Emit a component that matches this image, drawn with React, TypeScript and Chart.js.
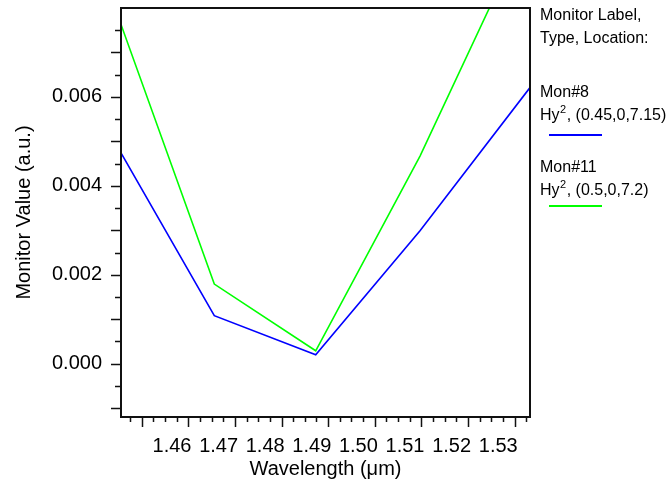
import React, { useEffect, useRef } from "react";
import { Chart, registerables } from "chart.js";

Chart.register(...registerables);

// ---- data ----
const wavelengths = [1.44906, 1.46908, 1.49084, 1.51322, 1.53682];
const mon8Values = [0.00474, 0.00108, 0.0002, 0.00299, 0.00621];
const mon11Values = [0.00763, 0.00179, 0.00029, 0.00467, 0.00995];
const xTickLabels = [1.46, 1.47, 1.48, 1.49, 1.5, 1.51, 1.52, 1.53];
const yTickLabels = [0, 0.002, 0.004, 0.006];
const legendHeader = ["Monitor Label,", "Type, Location:"];
const seriesNames = ["Mon#8", "Mon#11"];
const seriesTypes = ["Hy", "Hy"];
const seriesLocations = [", (0.45,0,7.15)", ", (0.5,0,7.2)"];
const seriesColors = ["#0000ff", "#00ff00"];

const FONT = "Arial, 'Liberation Sans', sans-serif";

const decorPlugin = {
  id: "decor",
  afterDraw(chart: any) {
    const ctx = chart.ctx;
    const area = chart.chartArea;
    const xs = chart.scales.x;
    const ys = chart.scales.y;
    ctx.save();
    // minor / major tick marks
    ctx.strokeStyle = "#111";
    ctx.lineWidth = 1.5;
    ctx.beginPath();
    for (let k = -2; k <= 15; k++) {
      const v = k * 0.0005;
      const py = Math.round(ys.getPixelForValue(v)) + 0.5;
      if (py < area.top + 2 || py > area.bottom - 2) continue;
      const len = k % 2 === 0 ? 10 : 6;
      ctx.moveTo(area.left - len, py);
      ctx.lineTo(area.left, py);
    }
    for (let k = 0; k <= 34; k++) {
      const v = 1.451 + k * 0.0025;
      const px = Math.round(xs.getPixelForValue(v)) + 0.5;
      if (px < area.left + 2 || px > area.right - 2) continue;
      const len = (k - 1) % 4 === 0 ? 10 : 5;
      ctx.moveTo(px, area.bottom);
      ctx.lineTo(px, area.bottom + len);
    }
    ctx.stroke();
    // frame
    ctx.lineWidth = 2;
    ctx.strokeStyle = "#111";
    ctx.strokeRect(area.left, area.top, area.right - area.left, area.bottom - area.top);

    // legend
    const lx = area.right + 10;
    ctx.fillStyle = "#000";
    ctx.textBaseline = "middle";
    ctx.textAlign = "left";
    ctx.font = "16px " + FONT;
    ctx.fillText(legendHeader[0], lx, 16);
    ctx.fillText(legendHeader[1], lx, 39);
    const nameY = [93, 168];
    const typeY = [116, 191];
    const lineY = [135, 206];
    seriesNames.forEach((name, i) => {
      ctx.font = "16px " + FONT;
      ctx.fillStyle = "#000";
      ctx.fillText(name, lx, nameY[i]);
      const y1 = typeY[i];
      ctx.fillText(seriesTypes[i], lx, y1);
      const w1 = ctx.measureText(seriesTypes[i]).width;
      ctx.font = "11px " + FONT;
      ctx.fillText("2", lx + w1 + 0.5, y1 - 6);
      const w2 = ctx.measureText("2").width;
      ctx.font = "16px " + FONT;
      ctx.fillText(seriesLocations[i], lx + w1 + w2 + 1, y1);
      ctx.strokeStyle = seriesColors[i];
      ctx.lineWidth = 2;
      ctx.beginPath();
      ctx.moveTo(lx + 9, lineY[i]);
      ctx.lineTo(lx + 62, lineY[i]);
      ctx.stroke();
    });
    ctx.restore();
  },
};

export default function App() {
  const ref = useRef<HTMLCanvasElement>(null);
  useEffect(() => {
    if (!ref.current) return;
    const chart = new Chart(ref.current, {
      type: "line",
      data: {
        datasets: [
          {
            label: "Mon#8",
            data: wavelengths.map((x, i) => ({ x, y: mon8Values[i] })),
            borderColor: seriesColors[0],
            borderWidth: 1.6,
            pointRadius: 0,
            tension: 0,
          },
          {
            label: "Mon#11",
            data: wavelengths.map((x, i) => ({ x, y: mon11Values[i] })),
            borderColor: seriesColors[1],
            borderWidth: 1.6,
            pointRadius: 0,
            tension: 0,
          },
        ],
      },
      options: {
        responsive: false,
        animation: false,
        events: [],
        layout: { padding: { top: 8, right: 137, left: 0, bottom: 0 } },
        plugins: { legend: { display: false }, tooltip: { enabled: false } },
        scales: {
          x: {
            type: "linear",
            min: wavelengths[0],
            max: wavelengths[wavelengths.length - 1],
            grid: { display: false, drawTicks: false },
            border: { display: false },
            afterBuildTicks: (s: any) => {
              s.ticks = xTickLabels.map((v) => ({ value: v }));
            },
            afterFit: (s: any) => {
              s.height = 71;
              s.paddingLeft = 0;
              s.paddingRight = 0;
              s.paddingTop = 0;
              s.paddingBottom = 0;
            },
            ticks: {
              autoSkip: false,
              maxRotation: 0,
              padding: 17,
              color: "#000",
              font: { size: 20, family: FONT },
              callback: (v: any) => Number(v).toFixed(2),
            },
            title: {
              display: true,
              text: "Wavelength (\u03bcm)",
              color: "#000",
              font: { size: 20, family: FONT },
              padding: { top: 0, bottom: 7 },
            },
          },
          y: {
            type: "linear",
            min: -0.0012,
            max: 0.008,
            grid: { display: false, drawTicks: false },
            border: { display: false },
            afterBuildTicks: (s: any) => {
              s.ticks = yTickLabels.map((v) => ({ value: v }));
            },
            afterFit: (s: any) => {
              s.width = 121;
              s.paddingLeft = 0;
              s.paddingRight = 0;
              s.paddingTop = 0;
              s.paddingBottom = 0;
            },
            ticks: {
              autoSkip: false,
              padding: 19,
              color: "#000",
              font: { size: 20, family: FONT },
              callback: (v: any) => Number(v).toFixed(3),
            },
            title: {
              display: true,
              text: "Monitor Value (a.u.)",
              color: "#000",
              font: { size: 20, family: FONT },
              padding: { top: 12, bottom: 0 },
            },
          },
        },
      },
      plugins: [decorPlugin],
    });
    return () => chart.destroy();
  }, []);
  return (
    <div style={{ position: "absolute", left: 0, top: 0, width: 667, height: 488, background: "#fff" }}>
      <canvas ref={ref} width={667} height={488} style={{ display: "block" }} />
    </div>
  );
}
